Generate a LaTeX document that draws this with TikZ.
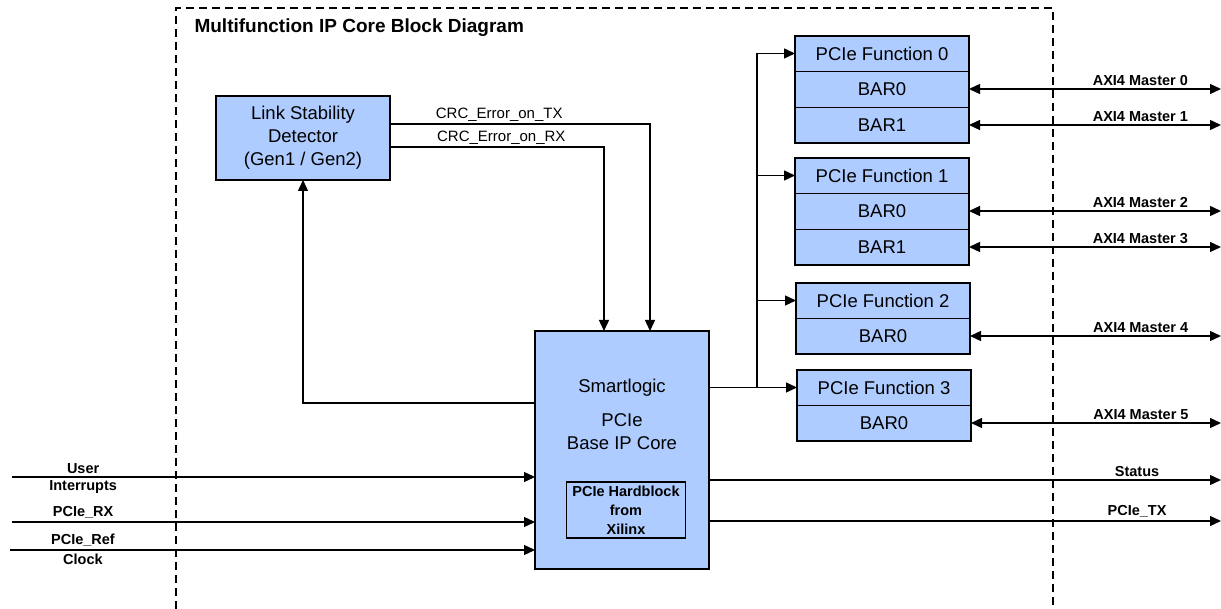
\documentclass[tikz,border=0pt]{standalone}
\usepackage{fontspec}
\setmainfont{Liberation Sans}
\usetikzlibrary{arrows.meta,positioning}
\definecolor{boxblue}{RGB}{174,204,255}

\begin{document}
\begin{tikzpicture}[x=1pt,y=-1pt,
  blk/.style={draw,line width=1.4pt,fill=boxblue,inner sep=0pt,outer sep=0pt,align=center},
  row/.style={draw,line width=0.7pt,fill=boxblue,inner sep=0pt,outer sep=0pt,minimum width=174pt,minimum height=36pt,font=\fontsize{18.5}{22}\selectfont},
  sig/.style={line width=1.4pt,-{Triangle[length=11pt,width=10pt]}},
  bisig/.style={line width=1.4pt,{Triangle[length=11pt,width=10pt]}-{Triangle[length=11pt,width=10pt]}},
  wire/.style={line width=1.4pt},
  sigtext/.style={font=\bfseries\fontsize{14.5}{16}\selectfont,inner sep=3pt},
  crctext/.style={font=\fontsize{15}{17}\selectfont,inner sep=2pt}]
\useasboundingbox (0,0) rectangle (1221,609);

% dashed frame and title
\draw[line width=1.4pt,dash pattern=on 8pt off 5pt] (176,609) -- (176,8) -- (1053,8) -- (1053,609);
\node[anchor=west,font=\bfseries\fontsize{19}{20}\selectfont] (title) at (191,28) {Multifunction IP Core Block Diagram};

% blocks
\node[blk,minimum width=174pt,minimum height=84pt,font=\fontsize{18.5}{23}\selectfont] (lsd) at (303,138) {Link Stability\\Detector\\(Gen1 / Gen2)};
\node[blk,minimum width=174pt,minimum height=238pt] (core) at (622,450) {};
\node[align=center,font=\fontsize{18.5}{23}\selectfont] (coretext) at (622,414) {Smartlogic\\[11pt]PCIe\\Base IP Core};
\node[draw,line width=1.2pt,minimum width=119pt,minimum height=56pt,inner sep=0pt,align=center,font=\bfseries\fontsize{14.5}{19}\selectfont] (hard) at (626,510) {PCIe Hardblock\\from\\Xilinx};

% functions
\node[row,anchor=north west,minimum height=35pt] (f0) at (795,36) {PCIe Function 0};
\node[row,below=0pt of f0] (f0a) {BAR0};
\node[row,below=0pt of f0a] (f0b) {BAR1};
\node[row,anchor=north west,minimum height=35pt] (f1) at (795,158) {PCIe Function 1};
\node[row,below=0pt of f1] (f1a) {BAR0};
\node[row,below=0pt of f1a] (f1b) {BAR1};
\node[row,anchor=north west,minimum height=35pt] (f2) at (796,283) {PCIe Function 2};
\node[row,below=0pt of f2] (f2a) {BAR0};
\node[row,anchor=north west,minimum height=35pt] (f3) at (797,370) {PCIe Function 3};
\node[row,below=0pt of f3] (f3a) {BAR0};
\draw[wire] (f0.north west) rectangle (f0b.south east);
\draw[wire] (f1.north west) rectangle (f1b.south east);
\draw[wire] (f2.north west) rectangle (f2a.south east);
\draw[wire] (f3.north west) rectangle (f3a.south east);

% crc and feedback
\draw[sig] ([yshift=14pt]lsd.east) -| node[crctext,pos=0.21,above]{CRC\_Error\_on\_TX} ([xshift=28pt]core.north);
\draw[sig] ([yshift=-9pt]lsd.east) -| node[crctext,pos=0.26,above]{CRC\_Error\_on\_RX} ([xshift=-18pt]core.north);
\draw[sig] ([yshift=47pt]core.west) -| (lsd.south);

% inputs
\coordinate (uin) at (12,477);
\coordinate (rxin) at (12,522);
\coordinate (refin) at (10,550);
\draw[sig] (uin) -- node[sigtext,pos=0.136,above]{User} node[sigtext,pos=0.136,below]{Interrupts} (uin -| core.west);
\draw[sig] (rxin) -- node[sigtext,pos=0.136,above]{PCIe\_RX} (rxin -| core.west);
\draw[sig] (refin) -- node[sigtext,pos=0.139,above]{PCIe\_Ref} node[sigtext,pos=0.139,below]{Clock} (refin -| core.west);

% fan out to functions
\coordinate (bus) at (757,0);
\draw[sig] (core.east |- f3.west) -- (f3.west);
\draw[wire] (bus |- f3.west) -- (bus |- f0.west);
\foreach \f in {f0,f1,f2}
  \draw[sig] (bus |- \f.west) -- (\f.west);

% outputs
\coordinate (edge) at (1221,0);
\foreach \b/\n in {f0a/0,f0b/1,f1a/2,f1b/3,f2a/4,f3a/5}
  \draw[bisig] (\b.east) -- node[sigtext,pos=0.68,above]{AXI4 Master \n} (\b.east -| edge);
\coordinate (stat) at (1221,480);
\coordinate (txout) at (1221,521);
\draw[sig] (stat -| core.east) -- node[sigtext,pos=0.836,above]{Status} (stat);
\draw[sig] (txout -| core.east) -- node[sigtext,pos=0.836,above]{PCIe\_TX} (txout);
\end{tikzpicture}
\end{document}
